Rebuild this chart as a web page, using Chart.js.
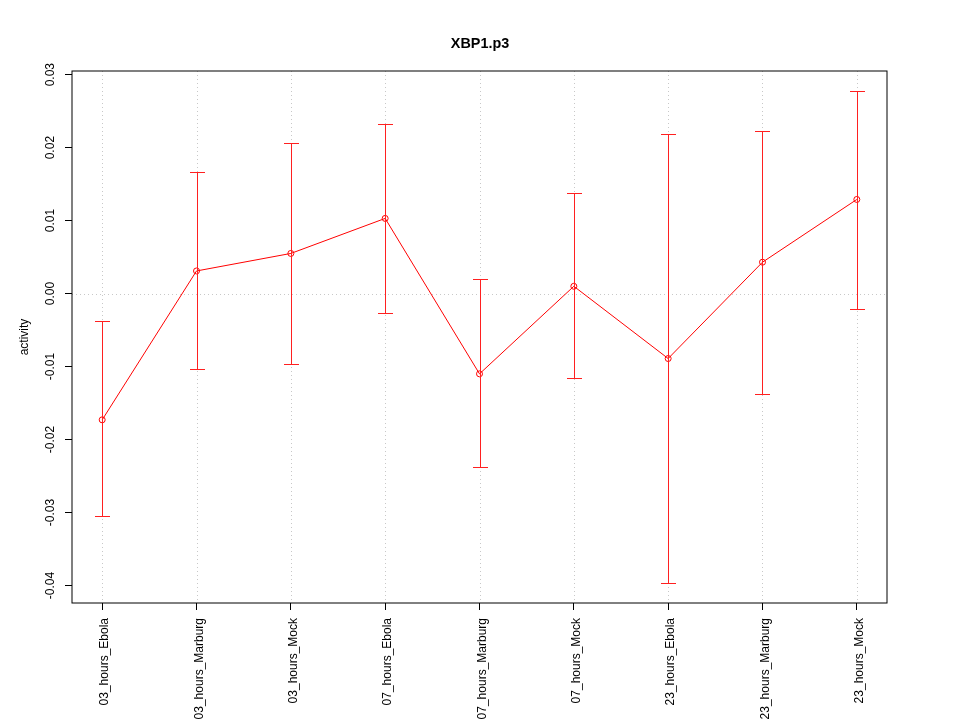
<!DOCTYPE html>
<html><head><meta charset="utf-8">
<script src="https://cdn.jsdelivr.net/npm/chart.js@4.4.0/dist/chart.umd.min.js"></script>
<style>html,body{margin:0;padding:0;background:#fff}#wrap{width:960px;height:720px}</style>
</head><body><div id="wrap"><canvas id="c" width="960" height="720"></canvas></div>
<script>
const categories = ['03_hours_Ebola','03_hours_Marburg','03_hours_Mock','07_hours_Ebola','07_hours_Marburg','07_hours_Mock','23_hours_Ebola','23_hours_Marburg','23_hours_Mock'];
const means = [-0.0173, 0.0031, 0.0055, 0.0103, -0.0110, 0.0010, -0.0089, 0.0043, 0.0129];
const upper = [-0.0038, 0.0166, 0.0207, 0.0233, 0.0020, 0.0138, 0.0218, 0.0223, 0.0278];
const lower = [-0.0305, -0.0104, -0.0096, -0.0026, -0.0238, -0.0116, -0.0397, -0.0137, -0.0021];
const yTicks = [-0.04, -0.03, -0.02, -0.01, 0, 0.01, 0.02, 0.03];
const yTickLabels = ['-0.04', '-0.03', '-0.02', '-0.01', '0.00', '0.01', '0.02', '0.03'];
const chartTitle = 'XBP1.p3';
const yLabel = 'activity';

const FONT = '"Liberation Sans", Arial, Helvetica, sans-serif';
const lo = Math.min(...lower), hi = Math.max(...upper), rng = hi - lo;
const yMin = lo - 0.04 * rng, yMax = hi + 0.04 * rng;
const xMin = 1 - 0.04 * (categories.length - 1), xMax = categories.length + 0.04 * (categories.length - 1);

const rPlot = {
  id: 'rplot',
  beforeDatasetsDraw(chart) {
    const {ctx, chartArea: a, scales: {x, y}} = chart;
    ctx.save();
    ctx.strokeStyle = '#c8c8c8';
    ctx.lineWidth = 1;
    ctx.setLineDash([1, 3]);
    categories.forEach((c, i) => {
      const px = Math.round(x.getPixelForValue(i + 1)) + 0.5;
      ctx.beginPath(); ctx.moveTo(px, a.top); ctx.lineTo(px, a.bottom); ctx.stroke();
    });
    const py = Math.round(y.getPixelForValue(0)) + 0.5;
    ctx.beginPath(); ctx.moveTo(a.left, py); ctx.lineTo(a.right, py); ctx.stroke();
    ctx.restore();
  },
  afterDatasetsDraw(chart) {
    const {ctx, scales: {x, y}} = chart;
    ctx.save();
    ctx.strokeStyle = '#ff2020';
    ctx.lineWidth = 1;
    categories.forEach((c, i) => {
      const px = Math.round(x.getPixelForValue(i + 1)) + 0.5;
      const yu = Math.round(y.getPixelForValue(upper[i])) + 0.5;
      const yl = Math.round(y.getPixelForValue(lower[i])) + 0.5;
      ctx.beginPath();
      ctx.moveTo(px, yu); ctx.lineTo(px, yl);
      ctx.moveTo(px - 7.5, yu); ctx.lineTo(px + 7.5, yu);
      ctx.moveTo(px - 7.5, yl); ctx.lineTo(px + 7.5, yl);
      ctx.stroke();
    });
    ctx.restore();
  },
  afterDraw(chart) {
    const {ctx, chartArea: a, scales: {y}} = chart;
    ctx.save();
    ctx.strokeStyle = '#000';
    ctx.lineWidth = 1;
    ctx.strokeRect(Math.round(a.left), Math.round(a.top), Math.round(a.right - a.left), Math.round(a.bottom - a.top));
    ctx.fillStyle = '#000';
    ctx.textAlign = 'center';
    ctx.textBaseline = 'middle';
    ctx.font = 'bold 14.4px ' + FONT;
    ctx.fillText(chartTitle, 480, 44);
    ctx.font = '12px ' + FONT;
    yTicks.forEach((v, i) => {
      const py = y.getPixelForValue(v);
      ctx.save();
      ctx.translate(51, py);
      ctx.rotate(-Math.PI / 2);
      ctx.fillText(yTickLabels[i], 0, 0);
      ctx.restore();
    });
    ctx.restore();
  }
};

new Chart(document.getElementById('c'), {
  type: 'line',
  data: {
    datasets: [{
      label: chartTitle,
      data: means.map((v, i) => ({x: i + 1, y: v})),
      borderColor: '#ff0000',
      borderWidth: 1,
      tension: 0,
      pointRadius: 3,
      pointBorderWidth: 1,
      pointBorderColor: '#ff0000',
      pointBackgroundColor: 'rgba(0,0,0,0)',
      fill: false
    }]
  },
  options: {
    responsive: false,
    animation: false,
    events: [],
    layout: {padding: {top: 71, left: 0, right: 73, bottom: 0}},
    plugins: {
      legend: {display: false},
      tooltip: {enabled: false},
      title: {display: false}
    },
    scales: {
      x: {
        type: 'linear',
        min: xMin,
        max: xMax,
        afterBuildTicks: (s) => { s.ticks = categories.map((c, i) => ({value: i + 1})); },
        afterFit: (s) => { s.height = 117; },
        border: {display: false},
        grid: {drawOnChartArea: false, drawTicks: true, tickLength: 7, tickColor: '#000', tickWidth: 1},
        ticks: {
          autoSkip: false,
          minRotation: 90,
          maxRotation: 90,
          padding: 8,
          labelOffset: 3,
          color: '#000',
          font: {family: FONT, size: 12},
          callback: (v, idx) => categories[idx]
        }
      },
      y: {
        type: 'linear',
        min: yMin,
        max: yMax,
        afterBuildTicks: (s) => { s.ticks = yTicks.map(v => ({value: v})); },
        afterFit: (s) => { s.width = 72; },
        border: {display: false},
        grid: {drawOnChartArea: false, drawTicks: true, tickLength: 7, tickColor: '#000', tickWidth: 1},
        ticks: {display: false},
        title: {
          display: true,
          text: yLabel,
          color: '#000',
          font: {family: FONT, size: 12, lineHeight: 1.2},
          padding: {top: 17, bottom: 0}
        }
      }
    }
  },
  plugins: [rPlot]
});
</script>
</body></html>
